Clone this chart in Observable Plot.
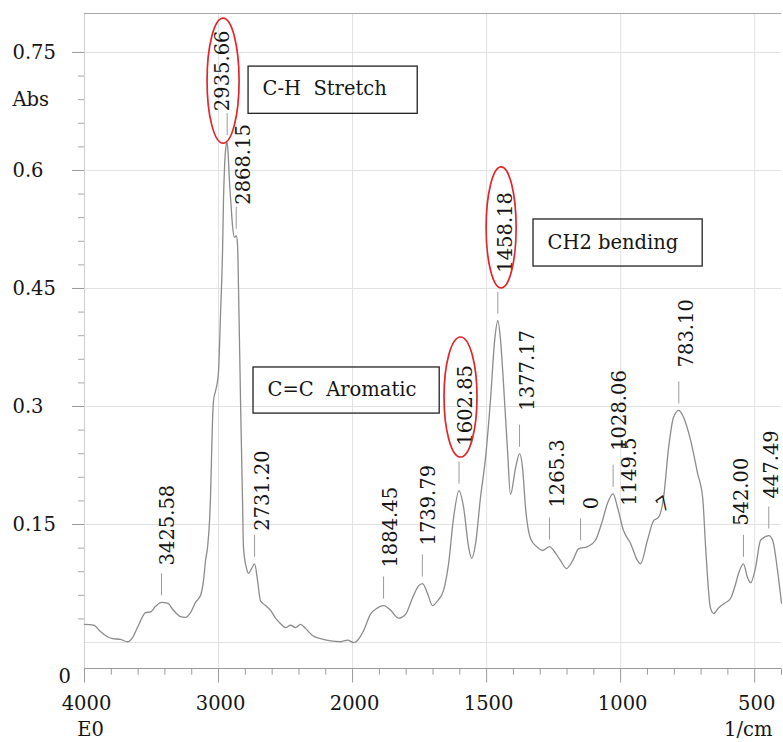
<!DOCTYPE html>
<html>
<head>
<meta charset="utf-8">
<script src="https://cdn.jsdelivr.net/npm/d3@7"></script>
<script src="https://cdn.jsdelivr.net/npm/@observablehq/plot@0.6"></script>
<style>
  body { margin: 0; background: #fff; }
  svg text { white-space: pre; }
</style>
</head>
<body>
<div id="chart"></div>
<script>
// ---- spectrum (wavenumber 1/cm, absorbance) ----
const wavenumber = [
  4000,3933,3881,3836,3791,3731,3679,3642,3597,3545,
  3507,3470,3425,3381,3336,3284,3246,3209,3172,3134,
  3112,3097,3082,3067,3060,3045,3037,3022,3007,3000,
  2985,2970,2963,2955,2945,2936,2928,2918,2905,2896,
  2881,2868,2858,2851,2836,2821,2814,2791,2776,2754,
  2731,2709,2687,2649,2612,2575,2537,2500,2463,2425,
  2388,2351,2299,2239,2164,2090,2037,1996,1981,1959,
  1933,1907,1884,1858,1828,1802,1776,1754,1739,1720,
  1702,1683,1661,1642,1623,1603,1586,1567,1556,1541,
  1523,1504,1485,1470,1458,1448,1437,1422,1411,1392,
  1377,1366,1355,1336,1310,1291,1265,1250,1224,1202,
  1179,1157,1123,1094,1068,1049,1028,1012,989,963,
  937,926,900,877,859,840,821,803,783,765,
  739,713,694,683,665,653,635,612,590,575,
  560,542,527,515,497,478,447,433,415,400
];
const absorbance = [
  0.023,0.022,0.014,0.008,0.005,0.004,0.001,0.006,0.022,0.038,
  0.039,0.046,0.051,0.050,0.041,0.033,0.032,0.038,0.051,0.060,
  0.079,0.104,0.121,0.155,0.184,0.282,0.308,0.320,0.333,0.345,
  0.418,0.498,0.562,0.605,0.630,0.636,0.620,0.585,0.552,0.530,
  0.515,0.517,0.505,0.451,0.308,0.180,0.121,0.094,0.088,0.094,
  0.100,0.079,0.053,0.047,0.041,0.031,0.024,0.019,0.022,0.019,
  0.023,0.018,0.009,0.005,0.002,0.001,0.003,0.000,0.003,0.015,
  0.036,0.044,0.047,0.041,0.031,0.036,0.057,0.072,0.075,0.062,
  0.047,0.053,0.066,0.100,0.159,0.193,0.172,0.121,0.107,0.126,
  0.184,0.235,0.311,0.384,0.409,0.384,0.329,0.244,0.188,0.222,
  0.240,0.222,0.172,0.132,0.121,0.117,0.122,0.117,0.104,0.094,
  0.104,0.119,0.122,0.130,0.155,0.177,0.189,0.172,0.142,0.126,
  0.104,0.100,0.130,0.155,0.159,0.184,0.248,0.286,0.295,0.286,
  0.257,0.215,0.184,0.121,0.044,0.037,0.044,0.050,0.056,0.070,
  0.088,0.100,0.083,0.076,0.095,0.130,0.136,0.130,0.092,0.050
];

// ---- peak picks ----
const peakWavenumber = [3425.58, 2935.66, 2868.15, 2731.20, 1884.45, 1739.79, 1602.85, 1458.18, 1377.17, 1265.3, 1149.5, 1028.06, 783.10, 542.00, 447.49];
const peakAbsorbance = [0.051, 0.636, 0.517, 0.100, 0.047, 0.075, 0.193, 0.409, 0.240, 0.122, 0.121, 0.189, 0.295, 0.100, 0.136];
const peakLabel = ["3425.58", "2935.66", "2868.15", "2731.20", "1884.45", "1739.79", "1602.85", "1458.18", "1377.17", "1265.3", "0", "1028.06", "783.10", "542.00", "447.49"];
// stray label fragments seen in the picture
const fragmentText = ["1149.5", "7"];
const fragmentWavenumber = [1028.06, 859];
const fragmentAbsorbance = [0.189, 0.159];

// ---- band annotations ----
const bandName = ["C-H  Stretch", "C=C  Aromatic", "CH2 bending"];
const bandBoxX1 = [2776, 2739, 1325];
const bandBoxX2 = [1757, 1675, 694];
const bandBoxY1 = [0.732, 0.3496, 0.5377];
const bandBoxY2 = [0.672, 0.291, 0.4779];
const bandTextX = [2672, 2634, 1273];
const bandTextY = [0.704, 0.3216, 0.5084];

// ---- highlighted peaks (red ellipses, bounds in data units) ----
const ringX1 = [3082, 1657, 1500];
const ringX2 = [2843, 1534, 1388];
const ringY1 = [0.793, 0.3877, 0.6038];
const ringY2 = [0.634, 0.2352, 0.450];

// ---- axes ----
const xMajorTicks = [4000, 3000, 2000, 1500, 1000, 500];
const xTickLabels = ["4000", "3000", "2000", "1500", "1000", "500"];
const xMinorTicks = [3800, 3600, 3400, 3200, 2800, 2600, 2400, 2200, 1900, 1800, 1700, 1600, 1400, 1300, 1200, 1100, 900, 800, 700, 600, 400];
const xGrid = [3000, 2000, 1500, 1000, 500];
const yMajorTicks = [0.15, 0.3, 0.45, 0.6, 0.75];
const yTickLabels = ["0.15", "0.3", "0.45", "0.6", "0.75"];
const yMinorTicks = [0.03, 0.06, 0.09, 0.12, 0.18, 0.21, 0.24, 0.27, 0.33, 0.36, 0.39, 0.42, 0.48, 0.51, 0.54, 0.57, 0.63, 0.66, 0.69, 0.72];
const yGrid = [0, 0.15, 0.3, 0.45, 0.6, 0.75];
const yMin = -0.033, yMax = 0.7995;
const yTitle = "Abs", yTitleAt = 0.69;
const xUnitLeft = "E0", xUnitRight = "1/cm";

// FTIR axis convention: 4000-2000 1/cm at half the scale of 2000-400 1/cm
const breakAt = 2000;
const wnToAxis = w => w >= breakAt ? 4000 - w : (4000 - breakAt) + (breakAt - w) * 2;

// label offsets (pixels): [dx, dy of text start]
const labelShift = {
  "3425.58": [6, -37], "2935.66": [-4, -31], "2868.15": [8, -31], "2731.20": [8, -33],
  "1884.45": [7, -38], "1739.79": [6, -38], "1602.85": [7, -45], "1458.18": [8, -48],
  "1377.17": [8, -43], "1265.3": [8, -39], "0": [11, -38], "1028.06": [7, -43],
  "783.10": [8, -43], "542.00": [-2, -38], "447.49": [3, -37]
};

const FONT = "DejaVu Serif";
const FS = 19.5;
const INK = "#151515";
const TICK = "#9a9a9a";
const idx = wavenumber.map((_, i) => i);
const pidx = peakWavenumber.map((_, i) => i);
const bidx = bandName.map((_, i) => i);
// tick lengths expressed in absorbance units below the frame
const majorTickLen = 0.0178, minorTickLen = 0.0078;

function rings(index, scales) {
  const g = d3.create("svg:g");
  ringX1.forEach((_, i) => {
    const xa = scales.x(wnToAxis(ringX1[i])), xb = scales.x(wnToAxis(ringX2[i]));
    const ya = scales.y(ringY1[i]), yb = scales.y(ringY2[i]);
    g.append("ellipse")
      .attr("cx", (xa + xb) / 2).attr("cy", (ya + yb) / 2)
      .attr("rx", Math.abs(xb - xa) / 2).attr("ry", Math.abs(yb - ya) / 2)
      .attr("fill", "none").attr("stroke", "#e2262b").attr("stroke-width", 1.7);
  });
  return g.node();
}

const labelMarks = pidx.map(i => Plot.text([i], {
  x: j => peakWavenumber[j], y: j => peakAbsorbance[j], text: j => peakLabel[j],
  rotate: -90, textAnchor: "start", lineAnchor: "middle",
  dx: labelShift[peakLabel[i]][0], dy: labelShift[peakLabel[i]][1],
  fontSize: FS, fontFamily: FONT, fill: INK
}));

const chart = Plot.plot({
  width: 783,
  height: 742,
  marginLeft: 84,
  marginRight: 2,
  marginTop: 13,
  marginBottom: 74,
  style: { fontSize: FS + "px", fontFamily: FONT, background: "#fff", color: INK },
  x: { transform: wnToAxis, domain: [wnToAxis(4000), wnToAxis(400)], range: [84, 781], axis: null },
  y: { domain: [yMin, yMax] },
  marks: [
    // grid
    Plot.ruleY(yGrid, { y: d => d, stroke: "#e2e2e2", strokeWidth: 1 }),
    Plot.ruleX(xGrid, { x: d => d, stroke: "#e2e2e2", strokeWidth: 1 }),
    // frame
    Plot.ruleX([4000], { x: d => d, stroke: "#d0d0d0" }),
    Plot.ruleY([yMax], { y: d => d, stroke: "#a8a8a8" }),
    Plot.ruleY([yMin], { y: d => d, stroke: TICK }),
    // x ticks (hang below the frame)
    Plot.link(xMajorTicks, { x1: d => d, x2: d => d, y1: () => yMin, y2: () => yMin - majorTickLen, stroke: TICK }),
    Plot.link(xMinorTicks, { x1: d => d, x2: d => d, y1: () => yMin, y2: () => yMin - minorTickLen, stroke: TICK }),
    // y ticks
    Plot.axisY({ ticks: yMajorTicks, tickSize: 12, tickFormat: () => "", stroke: TICK, label: null }),
    Plot.axisY({ ticks: yMinorTicks, tickSize: 6, tickFormat: () => "", stroke: "#a8a8a8", label: null }),
    // tick labels
    Plot.text(xMajorTicks, { x: d => d, text: (d, i) => xTickLabels[i], frameAnchor: "bottom", dy: 35, dx: 2, lineAnchor: "middle", fontSize: FS, fontFamily: FONT, fill: INK }),
    Plot.text(yMajorTicks, { y: d => d, text: (d, i) => yTickLabels[i], frameAnchor: "left", dx: -72, textAnchor: "start", lineAnchor: "middle", fontSize: FS, fontFamily: FONT, fill: INK }),
    Plot.text([yMin], { y: d => d, text: ["0"], frameAnchor: "left", dx: -26, dy: 8, textAnchor: "start", lineAnchor: "middle", fontSize: FS, fontFamily: FONT, fill: INK }),
    Plot.text([yTitleAt], { y: d => d, text: [yTitle], frameAnchor: "left", dx: -72, textAnchor: "start", lineAnchor: "middle", fontSize: FS, fontFamily: FONT, fill: INK }),
    Plot.text([xUnitLeft], { text: d => d, frameAnchor: "bottom-left", dx: 6, dy: 61, textAnchor: "middle", lineAnchor: "middle", fontSize: FS, fontFamily: FONT, fill: INK }),
    Plot.text([xUnitRight], { text: d => d, frameAnchor: "bottom-right", dx: -9, dy: 61, textAnchor: "end", lineAnchor: "middle", fontSize: FS, fontFamily: FONT, fill: INK }),
    // spectrum
    Plot.line(idx, { x: i => wavenumber[i], y: i => absorbance[i], stroke: "#8c8c8c", strokeWidth: 1.3, curve: "monotone-x" }),
    // peak pick ticks
    Plot.link(pidx, { x1: i => peakWavenumber[i], x2: i => peakWavenumber[i], y1: i => peakAbsorbance[i], y2: i => peakAbsorbance[i] + 0.028, dy: -7, stroke: TICK, strokeWidth: 1 }),
    ...labelMarks,
    Plot.text([0], { x: () => fragmentWavenumber[0], y: () => fragmentAbsorbance[0], text: () => fragmentText[0], rotate: -90, textAnchor: "start", lineAnchor: "middle", dx: 17, dy: 12, fontSize: FS, fontFamily: FONT, fill: INK }),
    Plot.text([1], { x: () => fragmentWavenumber[1], y: () => fragmentAbsorbance[1], text: () => fragmentText[1], rotate: -35, textAnchor: "middle", lineAnchor: "middle", dx: 5, dy: -13, fontSize: FS, fontFamily: FONT, fill: INK }),
    // band boxes
    Plot.rect(bidx, { x1: i => bandBoxX1[i], x2: i => bandBoxX2[i], y1: i => bandBoxY1[i], y2: i => bandBoxY2[i], fill: "none", stroke: "#222", strokeWidth: 1.3 }),
    Plot.text(bidx, { x: i => bandTextX[i], y: i => bandTextY[i], text: i => bandName[i], textAnchor: "start", lineAnchor: "middle", fontSize: FS, fontFamily: FONT, fill: INK }),
    // red rings
    rings
  ]
});
document.getElementById("chart").appendChild(chart);
</script>
</body>
</html>
